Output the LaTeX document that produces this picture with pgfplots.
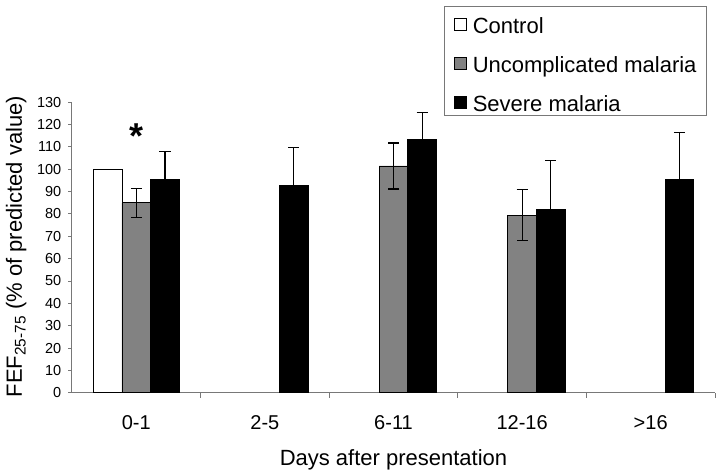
\documentclass[border=0pt]{standalone}
\usepackage{pgfplots}
\pgfplotsset{compat=1.18}
\usepackage{fontspec}
\setmainfont{Liberation Sans}
\definecolor{uncgray}{RGB}{130,130,130}
\definecolor{axgray}{RGB}{120,120,120}
\begin{document}
\begin{tikzpicture}
\path[use as bounding box] (-72bp,-78.3bp) rectangle (648bp,392.7bp);
\begin{axis}[
  at={(0,0)}, anchor=south west,
  scale only axis, width=643bp, height=290.4bp,
  xmin=-0.5, xmax=4.5, ymin=0, ymax=130,
  axis x line*=bottom, axis y line*=left,
  axis line style={axgray, line width=1bp},
  ybar=0pt, bar width=28.7bp,
  xtick={0,1,2,3,4},
  xticklabels={0-1,2-5,6-11,12-16,>16},
  minor xtick={0.5,1.5,2.5,3.5,4.5},
  major x tick style={draw=none},
  minor x tick style={axgray, line width=1bp},
  minor tick length=5bp,
  ytick={0,10,...,130},
  major y tick style={axgray, line width=1bp},
  major tick length=3.5bp,
  tick align=outside,
  /pgf/number format/assume math mode=true,
  xticklabel style={font=\fontsize{20bp}{24bp}\selectfont, inner sep=0pt, yshift=-19bp},
  yticklabel style={font=\fontsize{14.5bp}{16bp}\selectfont, inner sep=0pt, xshift=-7bp},
  xlabel={Days after presentation},
  xlabel style={font=\fontsize{22bp}{26bp}\selectfont, at={(axis description cs:0.5,-0.249)}, anchor=base},
  ylabel={FEF\textsubscript{25-75} (\% of predicted value)},
  ylabel style={font=\fontsize{22bp}{26bp}\selectfont, at={(axis description cs:-0.0778,0.5035)}, anchor=base},
  legend cell align=left,
  legend image code/.code={\draw[#1,/tikz/.cd,line width=0.8bp] (0.5bp,-8bp) rectangle (12.5bp,4bp);},
  legend style={at={(axis description cs:0.5785,1.33)}, anchor=north west,
    draw=axgray, line width=1bp, inner xsep=9.5bp, inner ysep=4bp,
    row sep=16bp, column sep=6bp,
    nodes={inner sep=0pt, text height=23bp, text depth=0bp},
    font=\fontsize{22bp}{26bp}\selectfont},
  error bars/error bar style={black, line width=1.2bp},
  error bars/error mark options={rotate=90, mark size=5.5bp, line width=1.2bp, black},
]
\addplot[fill=white, draw=black, line width=0.8bp] coordinates {(0,100)};
\addlegendentry{Control}
\addplot[fill=uncgray, draw=black, line width=0.8bp,
  error bars/.cd, y dir=both, y explicit]
  coordinates {(0,85) +- (0,6.5) (2,101.5) +- (0,10.3) (3,79.5) +- (0,11.4)};
\addlegendentry{Uncomplicated malaria}
\addplot[fill=black, draw=black, line width=0.8bp,
  error bars/.cd, y dir=both, y explicit]
  coordinates {(0,95.5) +- (0,12.3) (1,92.6) +- (0,17.2) (2,113.3) +- (0,12.3) (3,82) +- (0,22) (4,95.6) +- (0,20.9)};
\addlegendentry{Severe malaria}
\node[anchor=base, font=\fontsize{36bp}{36bp}\selectfont\bfseries] at (axis cs:0,109.2) {*};
\end{axis}
\end{tikzpicture}
\end{document}
